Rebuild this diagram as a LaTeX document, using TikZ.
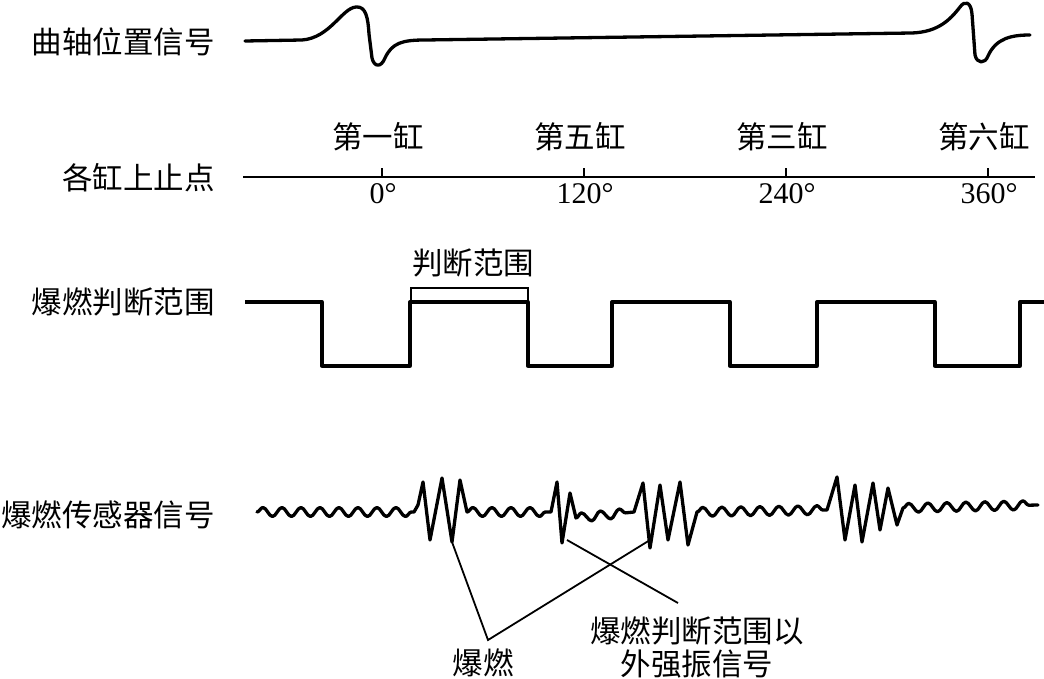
\documentclass[tikz,border=0pt]{standalone}
\usepackage{fontspec}
\setmainfont{Liberation Serif}
\newfontfamily\cjk{Noto Sans CJK SC}
\usepackage{tikz}
\usetikzlibrary{positioning,decorations.pathmorphing}

\begin{document}
\begin{tikzpicture}[
    x=1pt, y=-1pt,
    lbl/.style={inner sep=0pt, font=\cjk\fontsize{30.5}{33}\selectfont, align=center},
    num/.style={inner sep=0pt, font=\fontsize{30}{32}\selectfont},
    sig/.style={line width=3.3pt, line join=round, line cap=round},
    axis/.style={line width=1.4pt},
    lead/.style={line width=1.8pt},
    ripple/.style={decoration={snake, amplitude=4.5pt, segment length=19pt}}
]
\useasboundingbox (0,0) rectangle (1044,679);

\node[lbl, anchor=east] (crank) at (215,42) {曲轴位置信号};
\node[lbl, anchor=east] (tdc) at (215,178) {各缸上止点};
\node[lbl, anchor=east] (window) at (215,302) {爆燃判断范围};
\node[lbl, anchor=east] (sensor) at (215,515) {爆燃传感器信号};

\draw[sig] (245,41) -- (302,40) .. controls (330,38) and (342,8) .. (356,7)
  .. controls (366,6) and (368,18) .. (369,34) -- (372,58)
  .. controls (374,67) and (381,68) .. (385,58)
  .. controls (392,43) and (402,40) .. (425,40) -- (912,33)
  .. controls (938,32) and (950,20) .. (960,7)
  .. controls (965,0) and (971,2) .. (972,14) -- (975,55)
  .. controls (977,64) and (985,64) .. (988,56)
  .. controls (996,38) and (1012,35) .. (1030,35);

\draw[axis] (243,177) -- (1035,177);
\foreach \x/\deg/\cyl/\n in {382/0/一/1, 584/120/五/5, 786/240/三/3, 988/360/六/6} {
  \draw[axis] (\x,177) -- (\x,168);
  \node[lbl] (cyl\n) at (\x-4,137) {第\cyl 缸};
  \node[num] (deg\n) at (\x+1,194) {\deg°};
}

\draw[sig, line cap=butt] (245,302) -- (322,302) -- (322,366) -- (410,366) -- (410,302)
  -- (528,302) -- (528,366) -- (612,366) -- (612,302) -- (730,302) -- (730,366)
  -- (817,366) -- (817,302) -- (935,302) -- (935,366) -- (1020,366) -- (1020,302) -- (1044,302);
\draw[lead] (411,302) -- (411,288) -- (528,288) -- (528,302);
\node[lbl] (rangelbl) at (473,263) {判断范围};

\draw[sig, ripple] (257,512) decorate {-- (414,512)}
  -- (418,505) -- (423,482) -- (430,540) -- (442,478) -- (452,542) -- (460,480) -- (467,512)
  decorate {-- (551,512)}
  -- (557,482) -- (562,543) -- (570,493) -- (576,518)
  decorate {-- (634,512)}
  -- (643,483) -- (650,548) -- (660,485) -- (668,540) -- (680,482) -- (688,545) -- (697,512)
  decorate {-- (827,510)}
  -- (837,477) -- (845,540) -- (855,485) -- (862,542) -- (873,483) -- (880,530)
  -- (888,488) -- (897,525) -- (903,508)
  decorate {-- (1038,505)};

\coordinate (k1) at (452,542);
\coordinate (k2) at (567,540);
\coordinate (k3) at (650,540);
\coordinate (vtx) at (488,640);
\coordinate (sx) at (678,603);
\node[lbl] (knock) at (483,663) {爆燃};
\node[lbl] (strong) at (697,647) {爆燃判断范围以\\外强振信号};

\draw[lead] (k1) -- (vtx) -- (k3);
\draw[lead] (k2) -- (sx);
\end{tikzpicture}
\end{document}
